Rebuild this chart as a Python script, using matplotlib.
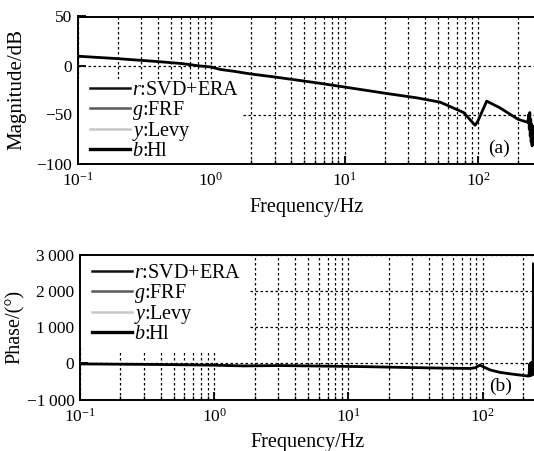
import numpy as np
import matplotlib
matplotlib.use("Agg")
import matplotlib.pyplot as plt
from matplotlib.lines import Line2D
from matplotlib.patches import Rectangle
from matplotlib.ticker import LogLocator, FixedLocator, FuncFormatter

# ── fonts: Times-like serif everywhere, math in the same family ─────────────
plt.rcParams['font.family'] = ['Liberation Serif', 'DejaVu Serif']
plt.rcParams['mathtext.fontset'] = 'custom'
plt.rcParams['mathtext.rm'] = 'Liberation Serif'
plt.rcParams['mathtext.it'] = 'Liberation Serif:italic'
plt.rcParams['axes.unicode_minus'] = True

# ── DATA ─────────────────────────────────────────────────────────────────────
# (a) magnitude, H1 curve (the other estimates lie underneath it)
freq_mag = [0.1, 0.2, 0.4, 0.6, 0.83, 1.0, 1.17, 1.5, 1.95, 3.1, 6.2, 9.8,
            20.8, 34.8, 52, 78, 95, 99.5, 116, 145, 200, 236,
            240, 242, 244, 246, 248, 250, 252, 254, 256]
mag_db = [9.5, 7, 4, 2, -0.5, -1.5, -4, -6, -8.5, -12, -17.7, -21.8,
          -28.6, -33, -37.4, -48, -61, -57, -36.4, -43, -55, -58,
          -50, -65, -48, -72, -55, -78, -60, -82, -62]

# (b) phase
freq_ph = [0.1, 0.37, 1.0, 1.65, 3.1, 13, 24.2, 48.2, 80.5, 88, 95.6,
           113.5, 134.8, 168.5, 217.8,
           222, 224, 226, 228, 230, 232, 234, 236, 238, 239.3]
phase_deg = [-15, -30, -50, -70, -60, -90, -110, -130, -140, -120, -50,
             -180, -250, -300, -350,
             -350, -20, -340, 10, -330, 20, -320, 30, -300, 2750]

legend_labels = ['$r$:SVD+ERA', '$g$:FRF', '$y$:Levy', '$b$:Hl']
legend_colors = ['#111111', '#5a5a5a', '#c8c8c8', '#000000']
legend_widths = [1.8, 1.8, 1.8, 2.4]

mag_ticks = [50, 0, -50, -100]
ph_ticks = [3000, 2000, 1000, 0, -1000]

# ── FIGURE ───────────────────────────────────────────────────────────────────
W, H = 534, 451
fig = plt.figure(figsize=(W / 100, H / 100), dpi=100)
fig.patch.set_facecolor('white')

def px_axes(left, top, right, bottom):
    return fig.add_axes([left / W, 1 - bottom / H, (right - left) / W, (bottom - top) / H])

ax1 = px_axes(77.5, 16.5, 535, 163.5)
ax2 = px_axes(80, 255, 535, 399.5)

GRID = dict(color='black', linewidth=0.9, linestyle=(0, (2, 2)))

def style(ax, xmax, ylim, yticks, fmt, xpad):
    ax.set_xscale('log')
    ax.set_xlim(0.1, xmax)
    ax.set_ylim(*ylim)
    ax.xaxis.set_major_locator(LogLocator(base=10, numticks=10))
    ax.xaxis.set_minor_locator(LogLocator(base=10, subs=np.arange(2, 10), numticks=10))
    ax.yaxis.set_major_locator(FixedLocator(yticks))
    ax.yaxis.set_major_formatter(FuncFormatter(fmt))
    ax.grid(True, which='major', **GRID)
    ax.grid(True, which='minor', axis='x', **GRID)
    ax.set_axisbelow(True)
    ax.tick_params(which='major', direction='in', length=6, width=1.3,
                   labelsize=12.5, pad=4)
    ax.tick_params(axis='x', which='major', pad=6)
    ax.tick_params(which='minor', direction='in', length=3, width=1)
    for sp in ax.spines.values():
        sp.set_linewidth(1.4)
        sp.set_zorder(8)
    ax.spines['right'].set_visible(False)
    ax.set_xlabel('Frequency/Hz', fontsize=14.5, labelpad=xpad)

def mag_fmt(v, pos):
    return f"{v:.0f}".replace('-', '\u2212')

def ph_fmt(v, pos):
    return f"{v:,.0f}".replace(',', '\u2009').replace('-', '\u2212')

style(ax1, 267, (-100, 50), mag_ticks, mag_fmt, 6)
style(ax2, 245.8, (-1000, 3000), ph_ticks, ph_fmt, 5)

ax1.plot(freq_mag, mag_db, color='black', linewidth=2.0, zorder=6)
ax2.plot(freq_ph, phase_deg, color='black', linewidth=2.0, zorder=6)

ax1.set_ylabel('Magnitude/dB', fontsize=15)
ax2.set_ylabel('Phase/(°)', fontsize=14.5)
ax1.yaxis.set_label_coords(-0.112, 0.5)
ax2.yaxis.set_label_coords(-0.121, 0.5)

handles = [Line2D([0], [0], color=c, linewidth=w)
           for c, w in zip(legend_colors, legend_widths)]

LEG = dict(fontsize=14.5, frameon=True, fancybox=False, facecolor='white',
           edgecolor='none', framealpha=1.0, borderaxespad=0.0,
           handlelength=2.0, handletextpad=0.1, labelspacing=-0.07)

# legend (a): sits on the bottom spine; white strip to its left hides the grid
leg1 = ax1.legend(handles, legend_labels, loc='lower left',
                  bbox_to_anchor=(0.022, 0.0), borderpad=0.12, **LEG)
leg1.set_zorder(5)
ax1.add_patch(Rectangle((0, 0), 0.03, 0.58, transform=ax1.transAxes,
                        facecolor='white', edgecolor='none', zorder=1))

leg2 = ax2.legend(handles, legend_labels, loc='upper left',
                  bbox_to_anchor=(0.006, 1.0), borderpad=0.45, **LEG)
leg2.set_zorder(5)
ax2.add_patch(Rectangle((0, 0.38), 0.01, 0.62, transform=ax2.transAxes,
                        facecolor='white', edgecolor='none', zorder=1))

ax1.text(0.921, 0.105, '(a)', transform=ax1.transAxes, fontsize=14,
         ha='center', va='center')
ax2.text(0.925, 0.089, '(b)', transform=ax2.transAxes, fontsize=14,
         ha='center', va='center')

fig.savefig('out.png', dpi=100)
